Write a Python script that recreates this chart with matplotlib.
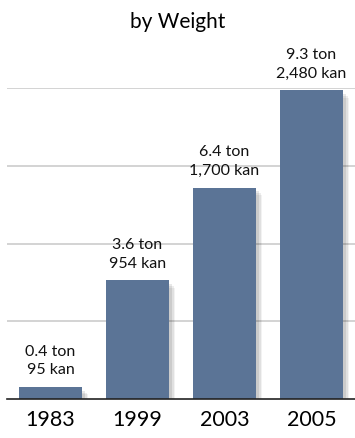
import matplotlib.pyplot as plt
import matplotlib.patheffects as pe

years = ["1983", "1999", "2003", "2005"]
tons = [0.4, 3.6, 6.4, 9.3]
kans = [95, 954, 1700, 2480]

plt.rcParams['font.family'] = ['Lato', 'DejaVu Sans']

fig = plt.figure(figsize=(3.55, 4.38), dpi=100)
ax = fig.add_axes([7 / 355, 39 / 438, 348 / 355, 311 / 438])

# faint shadow, stacked for a soft edge
shadow = [pe.SimplePatchShadow(offset=(o, -o * 1.3), shadow_rgbFace='black', alpha=a)
          for o, a in [(4, 0.05), (3, 0.07), (2, 0.09)]]
x = range(len(years))
ax.bar(x, kans, width=0.735, color='#5b7496', zorder=3,
       path_effects=shadow + [pe.Normal()])

for i, (t, k) in enumerate(zip(tons, kans)):
    ax.annotate(f"{t} ton\n{k:,} kan", (i, k), xytext=(0, 7), textcoords='offset points',
                ha='center', va='bottom', fontsize=11.5, linespacing=1.45, color='#111111')

ax.set_xlim(-0.5, 3.5)
ax.set_ylim(0, 2500)
ax.set_yticks([625, 1250, 1875, 2500])
ax.yaxis.grid(True, color='#cccccc', lw=1.2, zorder=0)
ax.set_yticklabels([])
ax.tick_params(axis='y', length=0)
ax.set_xticks(list(x))
ax.set_xticklabels(years, fontsize=15.5)
ax.tick_params(axis='x', length=0, pad=8)
for s in ['top', 'right', 'left']:
    ax.spines[s].set_visible(False)
ax.spines['bottom'].set_color('#222222')
ax.spines['bottom'].set_linewidth(1.2)
ax.spines['bottom'].set_zorder(4)

fig.text(0.5, 1 - 22 / 438, "by Weight", ha='center', va='center', fontsize=15)

fig.savefig("out.png", dpi=100)
